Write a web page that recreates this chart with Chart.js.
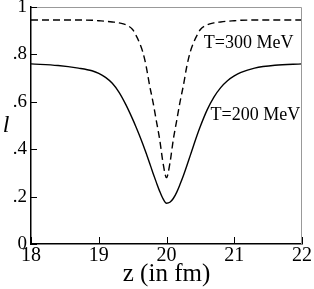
<!DOCTYPE html>
<html>
<head>
<meta charset="utf-8">
<script src="https://cdn.jsdelivr.net/npm/chart.js@4.4.0/dist/chart.umd.min.js"></script>
<style>
  html, body { margin: 0; padding: 0; background: #fff; }
  #wrap { width: 314px; height: 289px; }
</style>
</head>
<body>
<div id="wrap"><canvas id="myChart" width="314" height="289"></canvas></div>
<script>
// z positions (fm) shared by both curves
var zValues = [18, 18.4, 18.7, 18.9, 19.0, 19.1, 19.2, 19.3, 19.4, 19.5, 19.55, 19.6, 19.65, 19.7, 19.75, 19.8, 19.85, 19.9, 19.95, 20,
               20.05, 20.1, 20.15, 20.2, 20.25, 20.3, 20.35, 20.4, 20.45, 20.5, 20.6, 20.7, 20.8, 20.9, 21.0, 21.1, 21.3, 21.6, 22];

// T=200 MeV (solid)
var lT200 = [0.760, 0.753, 0.742, 0.731, 0.720, 0.703, 0.678, 0.640, 0.588, 0.527, 0.494, 0.459, 0.422, 0.383, 0.342, 0.300, 0.260, 0.222, 0.190, 0.172,
             0.176, 0.192, 0.218, 0.252, 0.289, 0.330, 0.373, 0.416, 0.458, 0.497, 0.566, 0.620, 0.660, 0.689, 0.709, 0.724, 0.742, 0.754, 0.760];

// T=300 MeV (dashed)
var lT300 = [0.945, 0.945, 0.945, 0.944, 0.942, 0.940, 0.937, 0.933, 0.925, 0.905, 0.880, 0.850, 0.810, 0.750, 0.670, 0.600, 0.520, 0.440, 0.340, 0.280,
             0.340, 0.440, 0.520, 0.600, 0.670, 0.750, 0.810, 0.850, 0.880, 0.905, 0.925, 0.933, 0.937, 0.940, 0.942, 0.944, 0.945, 0.945, 0.945];

var xTicks = [18, 19, 20, 21, 22];
var yTicks = [0, 0.2, 0.4, 0.6, 0.8, 1];

var labelTexts = ['T=300 MeV', 'T=200 MeV'];
var labelZ = [20.55, 20.65];
var labelL = [0.848, 0.544];

var serif = "'Liberation Serif', 'Times New Roman', serif";

function toPoints(xs, ys) {
    return xs.map(function (x, i) { return { x: x, y: ys[i] }; });
}

// inward ticks, grey top/right frame, "l" label and curve labels
var extras = {
    id: 'extras',
    afterDraw: function (chart) {
        var ctx = chart.ctx;
        var a = chart.chartArea;
        var xs = chart.scales.x, ys = chart.scales.y;
        ctx.save();
        ctx.strokeStyle = '#999';
        ctx.lineWidth = 1;
        ctx.beginPath();
        ctx.moveTo(a.left, a.top + 0.5);
        ctx.lineTo(a.right - 0.5, a.top + 0.5);
        ctx.lineTo(a.right - 0.5, a.bottom);
        ctx.stroke();

        ctx.strokeStyle = '#000';
        ctx.beginPath();
        yTicks.forEach(function (v) {
            var py = Math.round(ys.getPixelForValue(v)) + 0.5;
            ctx.moveTo(a.left, py);
            ctx.lineTo(a.left + 6, py);
        });
        xTicks.forEach(function (v) {
            var px = Math.round(xs.getPixelForValue(v)) + 0.5;
            ctx.moveTo(px, a.bottom);
            ctx.lineTo(px, a.bottom - 7);
        });
        ctx.stroke();

        ctx.fillStyle = '#000';
        ctx.font = 'italic 24px ' + serif;
        ctx.textAlign = 'center';
        ctx.textBaseline = 'middle';
        ctx.fillText('l', 6, (a.top + a.bottom) / 2);

        ctx.font = '18px ' + serif;
        ctx.textAlign = 'left';
        labelTexts.forEach(function (t, i) {
            ctx.fillText(t, xs.getPixelForValue(labelZ[i]), ys.getPixelForValue(labelL[i]));
        });
        ctx.restore();
    }
};

var ctx = document.getElementById('myChart').getContext('2d');
var myChart = new Chart(ctx, {
    type: 'line',
    data: {
        datasets: [{
            label: 'T=300 MeV',
            data: toPoints(zValues, lT300),
            borderColor: '#000',
            borderWidth: 1.4,
            borderDash: [7, 4],
            pointRadius: 0,
            cubicInterpolationMode: 'monotone',
            fill: false
        }, {
            label: 'T=200 MeV',
            data: toPoints(zValues, lT200),
            borderColor: '#000',
            borderWidth: 1.4,
            pointRadius: 0,
            cubicInterpolationMode: 'monotone',
            fill: false
        }]
    },
    options: {
        responsive: false,
        animation: false,
        layout: { autoPadding: false, padding: { top: 7, right: 12, left: 0, bottom: 0 } },
        plugins: {
            legend: { display: false },
            tooltip: { enabled: false }
        },
        scales: {
            x: {
                type: 'linear',
                min: 18,
                max: 22,
                afterBuildTicks: function (scale) {
                    scale.ticks = xTicks.map(function (v) { return { value: v }; });
                },
                afterFit: function (scale) {
                    scale.height = 45;
                    scale.paddingLeft = 0;
                    scale.paddingRight = 0;
                },
                grid: { display: true, drawOnChartArea: false, drawTicks: false },
                border: { display: true, color: '#000', width: 1.5 },
                ticks: {
                    color: '#000',
                    padding: 0,
                    maxRotation: 0,
                    font: { family: serif, size: 20 }
                },
                title: {
                    display: true,
                    text: 'z (in fm)',
                    color: '#000',
                    padding: { top: 0, bottom: 0 },
                    font: { family: serif, size: 25 }
                }
            },
            y: {
                min: 0,
                max: 1,
                afterBuildTicks: function (scale) {
                    scale.ticks = yTicks.map(function (v) { return { value: v }; });
                },
                afterFit: function (scale) {
                    scale.width = 31;
                    scale.paddingTop = 0;
                    scale.paddingBottom = 0;
                },
                grid: { display: true, drawOnChartArea: false, drawTicks: false },
                border: { display: true, color: '#000', width: 1.5 },
                ticks: {
                    color: '#000',
                    padding: 4,
                    font: { family: serif, size: 19 },
                    callback: function (v) {
                        if (v === 0 || v === 1) return String(v);
                        return String(Math.round(v * 10) / 10).replace(/^0/, '');
                    }
                }
            }
        }
    },
    plugins: [extras]
});
</script>
</body>
</html>
